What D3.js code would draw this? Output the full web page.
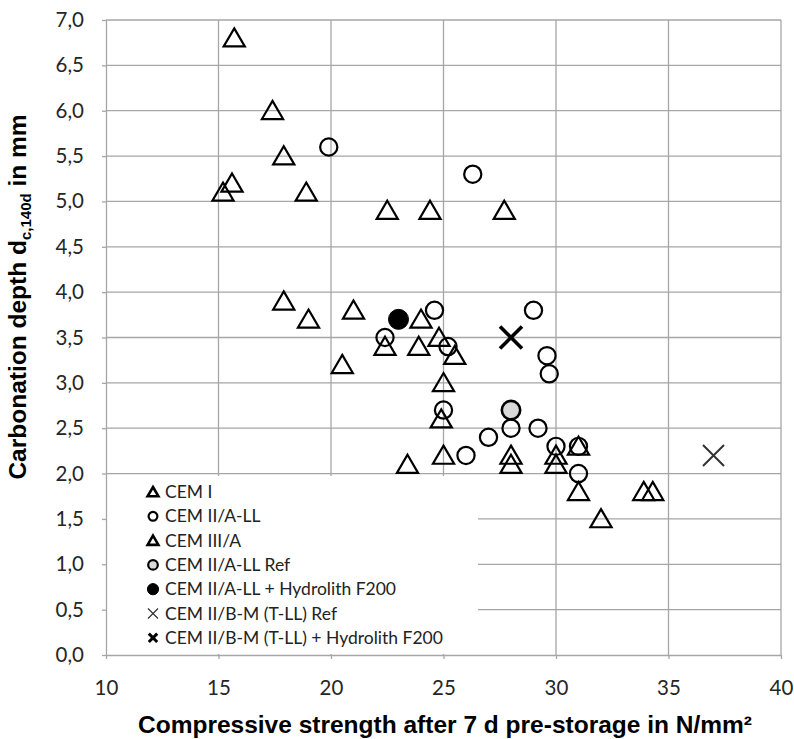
<!DOCTYPE html>
<html>
<head>
<meta charset="utf-8">
<script src="https://cdn.jsdelivr.net/npm/d3@7"></script>
<style>
  body { margin: 0; background: #fff; }
  svg { display: block; }
</style>
</head>
<body>
<svg id="chart" width="794" height="739"></svg>
<script>
// points, [strength N/mm², depth mm]
var cemIII = [[15.7, 6.8], [17.4, 6.0], [17.9, 5.5], [15.6, 5.2], [15.2, 5.1], [18.9, 5.1],
    [22.5, 4.9], [24.4, 4.9], [27.7, 4.9], [17.9, 3.9], [19.0, 3.7], [21.0, 3.8], [20.5, 3.2]];
var cemI = [[24.0, 3.7], [22.4, 3.4], [23.9, 3.4], [24.8, 3.5], [25.5, 3.3], [25.0, 3.0],
    [24.9, 2.6], [25.0, 2.2], [23.4, 2.1], [28.0, 2.2], [28.0, 2.1], [30.0, 2.2], [30.0, 2.1],
    [31.0, 2.3], [31.0, 1.8], [32.0, 1.5], [33.9, 1.8], [34.3, 1.8]];
var cemIIALL = [[19.9, 5.6], [26.3, 5.3], [24.6, 3.8], [22.4, 3.5], [25.2, 3.4], [29.0, 3.8],
    [29.6, 3.3], [29.7, 3.1], [25.0, 2.7], [28.0, 2.5], [27.0, 2.4], [26.0, 2.2], [29.2, 2.5],
    [30.0, 2.3], [31.0, 2.3], [31.0, 2.0]];
var cemIIALLRef = [[28.0, 2.7]];
var cemIIALLHydro = [[23.0, 3.7]];
var cemIIBMRef = [[37.0, 2.2]];
var cemIIBMHydro = [[28.0, 3.5]];

var xTicks = [10, 15, 20, 25, 30, 35, 40];
var yTicks = [0, 0.5, 1, 1.5, 2, 2.5, 3, 3.5, 4, 4.5, 5, 5.5, 6, 6.5, 7];
var legendLabels = ['CEM I', 'CEM II/A-LL', 'CEM III/A', 'CEM II/A-LL Ref',
    'CEM II/A-LL + Hydrolith F200', 'CEM II/B-M (T-LL) Ref', 'CEM II/B-M (T-LL) + Hydrolith F200'];

var svg = d3.select('#chart');
var plotL = 106, plotR = 781, plotT = 20, plotB = 655;

var x = d3.scaleLinear().domain([10, 40]).range([plotL, plotR]);
var y = d3.scaleLinear().domain([0, 7]).range([plotB, plotT]);

var gridColor = '#a6a6a6';
var fmt = function (d) { return d3.format('.1f')(d).replace('.', ','); };

// grid
svg.append('g').selectAll('line')
    .data(yTicks.filter(function (d) { return d > 0; }))
    .enter().append('line')
    .attr('x1', plotL).attr('x2', plotR)
    .attr('y1', function (d) { return y(d); }).attr('y2', function (d) { return y(d); })
    .style('stroke', gridColor).style('stroke-width', 1.3);
svg.append('g').selectAll('line')
    .data(xTicks.filter(function (d) { return d > 10; }))
    .enter().append('line')
    .attr('y1', plotT).attr('y2', plotB)
    .attr('x1', function (d) { return x(d); }).attr('x2', function (d) { return x(d); })
    .style('stroke', gridColor).style('stroke-width', 1.3);

// legend box hides the grid underneath
svg.append('rect')
    .attr('x', plotL + 1).attr('y', 476)
    .attr('width', 478 - plotL - 1).attr('height', plotB - 476 - 1)
    .style('fill', '#fff');

// axes
var yAxis = svg.append('g')
    .attr('transform', 'translate(' + plotL + ',0)')
    .call(d3.axisLeft(y).tickValues(yTicks).tickFormat(fmt).tickSizeInner(4).tickSizeOuter(0).tickPadding(18));
var xAxis = svg.append('g')
    .attr('transform', 'translate(0,' + plotB + ')')
    .call(d3.axisBottom(x).tickValues(xTicks).tickSizeInner(4).tickSizeOuter(0).tickPadding(21));
[xAxis, yAxis].forEach(function (a) {
    a.select('.domain').style('stroke', gridColor).style('stroke-width', 1.3);
    a.selectAll('.tick line').style('stroke', gridColor).style('stroke-width', 1.3);
    a.selectAll('.tick text')
        .style('font-family', 'Lato, "Open Sans", sans-serif')
        .style('font-size', '20.5px')
        .style('fill', '#262626');
});

// axis titles
svg.append('text')
    .attr('x', 445).attr('y', 733)
    .attr('text-anchor', 'middle')
    .style('font-family', '"Liberation Sans", Arial, sans-serif')
    .style('font-weight', 'bold')
    .style('font-size', '24.5px')
    .text('Compressive strength after 7 d pre-storage in N/mm²');

var yt = svg.append('text')
    .attr('transform', 'translate(26,297) rotate(-90)')
    .attr('text-anchor', 'middle')
    .style('font-family', '"Liberation Sans", Arial, sans-serif')
    .style('font-weight', 'bold')
    .style('font-size', '24.5px');
yt.append('tspan').text('Carbonation depth d');
yt.append('tspan').attr('dy', 5).style('font-size', '15px').text('c,140d');
yt.append('tspan').attr('dy', -5).text(' in mm');

// marker painters
function triangle(s) {
    return 'M0,' + (-s) + 'L' + (s * 1.08) + ',' + (s * 0.85) + 'L' + (-s * 1.08) + ',' + (s * 0.85) + 'Z';
}
function cross(s) {
    return 'M' + (-s) + ',' + (-s) + 'L' + s + ',' + s + 'M' + (-s) + ',' + s + 'L' + s + ',' + (-s);
}
var styles = [
    { kind: 'tri', fill: 'none', sw: 2.2, size: 9.8, lsize: 5, lsw: 2.6 },
    { kind: 'circle', fill: 'none', sw: 2.2, size: 8.6, lsize: 4.4, lsw: 2.2 },
    { kind: 'tri', fill: 'none', sw: 2.2, size: 9.8, lsize: 5, lsw: 2.6 },
    { kind: 'circle', fill: '#d9d9d9', sw: 2.6, size: 9.2, lsize: 4.8, lsw: 2.2 },
    { kind: 'circle', fill: '#000', sw: 1, size: 10, lsize: 5.6, lsw: 1 },
    { kind: 'cross', fill: 'none', sw: 2, size: 10.5, lsize: 5, lsw: 1.2, color: '#333' },
    { kind: 'cross', fill: 'none', sw: 3.6, size: 11, lsize: 4.2, lsw: 3 }
];
var series = [cemI, cemIIALL, cemIII, cemIIALLRef, cemIIALLHydro, cemIIBMRef, cemIIBMHydro];

function drawMarker(g, st, size, sw) {
    var color = st.color || '#000';
    if (st.kind === 'circle') {
        g.append('circle').attr('r', size)
            .style('fill', st.fill).style('stroke', color).style('stroke-width', sw);
    } else if (st.kind === 'tri') {
        g.append('path').attr('d', triangle(size))
            .style('fill', 'none').style('stroke', color).style('stroke-width', sw);
    } else {
        g.append('path').attr('d', cross(size))
            .style('fill', 'none').style('stroke', color).style('stroke-width', sw);
    }
}

series.forEach(function (pts, i) {
    var st = styles[i];
    svg.append('g').selectAll('g')
        .data(pts)
        .enter().append('g')
        .attr('transform', function (d) { return 'translate(' + x(d[0]) + ',' + y(d[1]) + ')'; })
        .each(function () { drawMarker(d3.select(this), st, st.size, st.sw); });
});

// legend
var legend = svg.append('g');
legendLabels.forEach(function (label, i) {
    var ly = 492 + i * 24.3;
    var m = legend.append('g').attr('transform', 'translate(153,' + ly + ')');
    drawMarker(m, styles[i], styles[i].lsize, styles[i].lsw);
    legend.append('text')
        .attr('x', 165).attr('y', ly)
        .attr('dy', '0.35em')
        .style('font-family', 'Lato, "Open Sans", sans-serif')
        .style('font-size', '17.5px')
        .style('fill', '#222')
        .text(label);
});
</script>
</body>
</html>
